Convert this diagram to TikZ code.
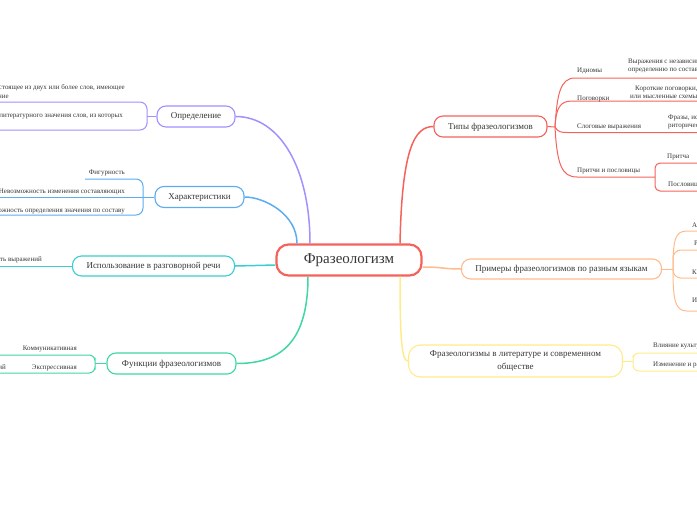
\documentclass[tikz,border=0pt]{standalone}
\usepackage{fontspec}
\setmainfont{Liberation Serif}
\definecolor{cred}{RGB}{245,98,92}
\definecolor{cpur}{RGB}{160,145,255}
\definecolor{cblu}{RGB}{92,172,240}
\definecolor{ctea}{RGB}{60,205,210}
\definecolor{cgrn}{RGB}{64,214,165}
\definecolor{cora}{RGB}{255,187,140}
\definecolor{cyel}{RGB}{255,235,140}
\definecolor{ctxt}{RGB}{55,55,55}
\begin{document}
\begin{tikzpicture}[x=1pt,y=-1pt,
  central/.style={draw=cred, line width=2.2pt, rounded corners=12pt, fill=white,
    minimum width=145pt, minimum height=31pt, inner sep=0pt, text=ctxt,
    font=\fontsize{15}{17}\selectfont},
  topic/.style={draw, rounded corners=9pt, fill=white, line width=1.1pt,
    font=\fontsize{9}{13}\selectfont, text=ctxt, inner sep=0pt, minimum height=21pt,
    text depth=1pt},
  small/.style={font=\fontsize{7}{8}\selectfont, text=ctxt, inner sep=0pt},
  lsmall/.style={small, anchor=base east},
  rsmall/.style={small, anchor=base west},
  conn/.style={line width=1.5pt},
  sub/.style={line width=1pt}]
\useasboundingbox (0,0) rectangle (697,520);
\clip (0,0) rectangle (697,520);

% main topics
\node[central] (c) at (349,260) {Фразеологизм};
\node[topic, draw=cpur, minimum width=78pt] (def) at (196,116.5) {Определение};
\node[topic, draw=cblu, minimum width=89pt] (har) at (199.5,197) {Характеристики};
\node[topic, draw=ctea, minimum width=162pt, minimum height=20pt] (use) at (153.5,266) {Использование в разговорной речи};
\node[topic, draw=cgrn, minimum width=129pt] (fun) at (171.5,363.5) {Функции фразеологизмов};
\node[topic, draw=cred, minimum width=113pt] (typ) at (490.5,126.5) {Типы фразеологизмов};
\node[topic, draw=cora, minimum width=200pt, minimum height=20pt] (ex) at (561.5,269) {Примеры фразеологизмов по разным языкам};
\node[topic, draw=cyel, minimum width=214pt, minimum height=32pt, align=center, rounded corners=12pt] (lit) at (515.5,361) {Фразеологизмы в литературе и современном\\обществе};

% main connectors
\draw[conn,cred] ([xshift=51pt]c.north) .. controls +(2,-95) and +(-19,0) .. (typ.west);
\draw[conn,cpur] ([xshift=-39pt]c.north) .. controls +(0,-74) and +(45,0) .. (def.east);
\draw[conn,cblu] ([xshift=-52pt]c.north) .. controls +(0,-29) and +(20,0) .. (har.east);
\draw[conn,ctea] ([yshift=-5pt]c.west) .. controls +(-20,0) and +(20,0) .. (use.east);
\draw[conn,cgrn] ([xshift=-41pt]c.south) .. controls +(0,70) and +(40,0) .. (fun.east);
\draw[conn,cora] ([yshift=-7pt]c.east) .. controls +(20,0) and +(-18,0) .. (ex.west);
\draw[conn,cyel] ([xshift=51pt]c.south) .. controls +(0,64) and +(-6,0) .. (lit.west);

% coordinates for sub branches
\coordinate (defb) at (147,116.5);
\coordinate (d1e) at (0,102);
\coordinate (d2e) at (0,130);
\coordinate (harb) at (143,197);
\coordinate (h1e) at (85,179);
\coordinate (h2e) at (0,197);
\coordinate (h3e) at (0,215);
\coordinate (u1e) at (0,266);
\coordinate (funb) at (95,363.5);
\coordinate (f1e) at (0,355);
\coordinate (f2e) at (0,373);
\coordinate (tb) at (555,127);
\coordinate (t1s) at (575,78);   \coordinate (t1e) at (697,78);
\coordinate (t2s) at (572,101);  \coordinate (t2e) at (697,101);
\coordinate (t3s) at (567,132.5);\coordinate (t3e) at (697,132.5);
\coordinate (t4s) at (577,177);  \coordinate (pb) at (655,177);
\coordinate (p1e) at (697,163);  \coordinate (p2e) at (697,191);
\coordinate (eb) at (673,269);
\coordinate (e1s) at (687,231);  \coordinate (e1e) at (697,231);
\coordinate (e2e) at (697,250);  \coordinate (e3e) at (697,278);
\coordinate (e4s) at (687,311);  \coordinate (e4e) at (697,311);
\coordinate (lb) at (633,361);
\coordinate (l1e) at (697,353);  \coordinate (l2e) at (697,371);

% left sub connectors
\draw[sub,cpur] (def.west) -- (defb);
\draw[sub,cpur,rounded corners=7pt] (d1e) -| (defb) |- (d2e);
\draw[sub,cblu] (har.west) -- (h2e);
\draw[sub,cblu,rounded corners=7pt] (h1e) -| (harb) |- (h3e);
\draw[sub,ctea] (use.west) -- (u1e);
\draw[sub,cgrn] (fun.west) -- (funb);
\draw[sub,cgrn,rounded corners=6pt] (f1e) -| (funb) |- (f2e);

% right sub connectors
\draw[sub,cred] (typ.east) -- (tb);
\draw[sub,cred] (tb) .. controls +(2,-32) and +(-15,0) .. (t1s) -- (t1e);
\draw[sub,cred] (tb) .. controls +(1,-19) and +(-12,0) .. (t2s) -- (t2e);
\draw[sub,cred] (tb) .. controls +(3,5) and +(-6,0) .. (t3s) -- (t3e);
\draw[sub,cred] (tb) .. controls +(2,38) and +(-15,0) .. (t4s) -- (pb);
\draw[sub,cred,rounded corners=5pt] (p1e) -| (pb) |- (p2e);
\draw[sub,cora] (ex.east) -- (eb);
\draw[sub,cora] (eb) .. controls +(0,-29) and +(-12,0) .. (e1s) -- (e1e);
\draw[sub,cora,rounded corners=8pt] (eb) |- (e2e);
\draw[sub,cora,rounded corners=8pt] (eb) |- (e3e);
\draw[sub,cora] (eb) .. controls +(0,31) and +(-12,0) .. (e4s) -- (e4e);
\draw[sub,cyel] (lit.east) -- (lb);
\draw[sub,cyel,rounded corners=6pt] (l1e) -| (lb) |- (l2e);

% left texts
\node[lsmall] (d1a) at (125,89.5) {Фразеологизм — это устойчивое выражение, состоящее из двух или более слов, имеющее};
\node[lsmall] (d1b) at (9,98) {целостное значение};
\node[lsmall] (d2a) at (123,117.5) {Значение, которое не выводится из литературного значения слов, из которых};
\node[lsmall] (h1) at (125,174.2) {Фигурность};
\node[lsmall] (h2) at (125,193.2) {Невозможность изменения составляющих};
\node[lsmall] (h3) at (125,212.5) {Невозможность определения значения по составу};
\node[lsmall] (u1) at (42,261.5) {Образность выражений};
\node[lsmall] (f1) at (77,350.2) {Коммуникативная};
\node[lsmall] (f2) at (77,369.5) {Экспрессивная};
\node[lsmall] (f3) at (6,369.5) {Выражение эмоций};

% right texts
\node[rsmall] (t1) at (577,72.5) {Идиомы};
\node[rsmall] (t1a) at (628,63.5) {Выражения с независимым значением,};
\node[rsmall] (t1b) at (628,71.5) {определению по составу не поддающимся};
\node[rsmall] (t2) at (577,100.2) {Поговорки};
\node[rsmall] (t2a) at (635,90.5) {Короткие поговорки, выражающие мудрость};
\node[rsmall] (t2b) at (630,98.5) {или мысленные схемы};
\node[rsmall] (t3) at (577,128.5) {Слоговые выражения};
\node[rsmall] (t3a) at (668,119.5) {Фразы, используемые};
\node[rsmall] (t3b) at (668,127.5) {риторически};
\node[rsmall] (t4) at (577,172.5) {Притчи и пословицы};
\node[rsmall] (p1) at (667,158.5) {Притча};
\node[rsmall] (p2) at (668,186.5) {Пословицы};
\node[rsmall] (e1) at (692,227.5) {Английские};
\node[rsmall] (e2) at (694,245.5) {Русские};
\node[rsmall] (e3) at (692,274.5) {Китайские};
\node[rsmall] (e4) at (692,302.5) {Испанские};
\node[rsmall] (l1) at (653,347.5) {Влияние культуры};
\node[rsmall] (l2) at (653,366.5) {Изменение и развитие языка};
\end{tikzpicture}
\end{document}
